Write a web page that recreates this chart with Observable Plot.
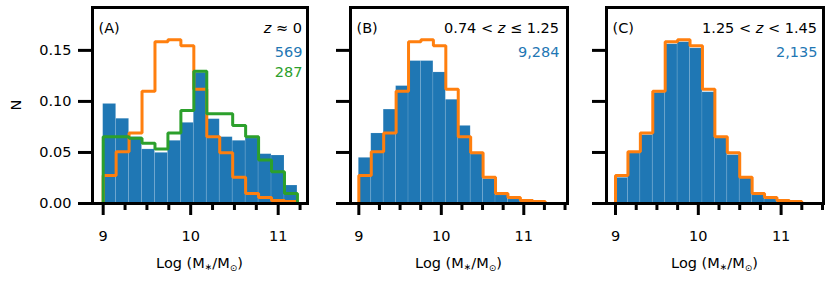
<!DOCTYPE html>
<html>
<head>
<meta charset="utf-8">
<script src="https://cdn.jsdelivr.net/npm/d3@7"></script>
<script src="https://cdn.jsdelivr.net/npm/@observablehq/plot@0.6"></script>
<style>
  body { margin: 0; background: #fff; }
  #chart { position: relative; width: 830px; height: 281px; font-family: "DejaVu Sans", sans-serif; }
  #chart svg { position: absolute; top: 0; overflow: visible; }
</style>
</head>
<body>
<div id="chart"></div>
<script>
// ---- Data ----
const yTicks = [0, 0.05, 0.10, 0.15];
const majorXTicks = [9, 10, 11];
const minorXTicks = [9.25, 9.5, 9.75, 10.25, 10.5, 10.75, 11.25, 11.5];

// bin ranges [start, end, count] per panel
const binsA = [9.0, 11.22, 15];
const binsB = [9.0, 11.26, 15];
const binsC = [9.0, 11.25, 15];

// Panel A (z ≈ 0)
const blueA  = [0.0975, 0.083, 0.065, 0.053, 0.0496, 0.0614, 0.079, 0.128, 0.0826, 0.065, 0.0614, 0.0637, 0.0483, 0.047, 0.0176];
const greenA = [0.0655, 0.0655, 0.064, 0.059, 0.0535, 0.069, 0.091, 0.1295, 0.088, 0.088, 0.0765, 0.0655, 0.0425, 0.031, 0.0097];
// reference (orange) distribution
const orangeRef = [0.0275, 0.0506, 0.069, 0.110, 0.1585, 0.1605, 0.1545, 0.112, 0.0655, 0.0496, 0.0258, 0.0099, 0.0058, 0.0029, 0.002];
// Panel B (0.74 < z ≤ 1.25)
const blueB  = [0.0447, 0.0686, 0.092, 0.115, 0.1395, 0.1395, 0.1284, 0.1016, 0.076, 0.048, 0.024, 0.008, 0.004, 0.002, 0.001];
// Panel C (1.25 < z < 1.45)
const blueC  = [0.0251, 0.049, 0.067, 0.1085, 0.156, 0.158, 0.152, 0.109, 0.0647, 0.0474, 0.0245, 0.0081, 0.004, 0.0026, 0.0015];

const panelLabels = ["(A)", "(B)", "(C)"];
const zLabels = [
  [["", false], ["z", true], [" ≈ 0", false]],
  [["0.74 < ", false], ["z", true], [" ≤ 1.25", false]],
  [["1.25 < ", false], ["z", true], [" < 1.45", false]]
];
const countsA = [["569", "#1f77b4"], ["287", "#2ca02c"]];
const countsB = [["9,284", "#1f77b4"]];
const countsC = [["2,135", "#1f77b4"]];

const BLUE = "#1f77b4", ORANGE = "#ff7f0e", GREEN = "#2ca02c";
const H = 281, MT = 7, MB = 78, FS = 14.5;

function edgesFor([lo, hi, n]) { return d3.range(n + 1).map(i => lo + (hi - lo) * i / n); }
function barsOf(vals, e) { return vals.map((v, i) => ({x1: e[i], x2: e[i + 1], y: v})); }
function stepOf(vals, e) {
  return [{x: e[0], y: 0}, ...vals.map((v, i) => ({x: e[i], y: v})), {x: e[vals.length], y: 0}];
}

function panel({left, width, mL, mR, xDomain, bins, blue, orange, green, idx, counts, yLabels, zRight}) {
  const e = edgesFor(bins);
  const marks = [
    Plot.rectY(barsOf(blue, e), {x1: "x1", x2: "x2", y: "y", fill: BLUE, stroke: "#ffffff", strokeOpacity: 0.14, strokeWidth: 0.8}),
    Plot.line(stepOf(orange, e), {x: "x", y: "y", curve: "step-after", stroke: ORANGE, strokeWidth: 3, strokeLinejoin: "miter"})
  ];
  if (green) marks.push(Plot.line(stepOf(green, e), {x: "x", y: "y", curve: "step-after", stroke: GREEN, strokeWidth: 3, strokeLinejoin: "miter"}));
  marks.push(
    Plot.axisX({ticks: minorXTicks.filter(t => t >= xDomain[0] && t <= xDomain[1]), tickSize: 7, strokeWidth: 3, tickFormat: () => "", label: null}),
    Plot.axisX({ticks: majorXTicks, tickSize: 12, strokeWidth: 3, tickPadding: 15, fontSize: FS, label: null, tickFormat: d3.format("d")}),
    Plot.axisY({ticks: yTicks, tickSize: 14, strokeWidth: 3, tickPadding: 7, fontSize: FS, label: null,
                tickFormat: yLabels ? d3.format(".2f") : () => ""}),
    Plot.frame({stroke: "black", strokeWidth: 3}),
    Plot.text([panelLabels[idx]], {frameAnchor: "top-left", textAnchor: "start", lineAnchor: "top", dx: 6, dy: 15.7, fontSize: FS, fill: "black"})
  );
  counts.forEach(([t, c], k) => {
    marks.push(Plot.text([t], {frameAnchor: "top-right", textAnchor: "end", lineAnchor: "top", dx: -zRight, dy: 39.7 + 20 * k, fontSize: FS, fill: c}));
  });
  const svg = Plot.plot({
    width, height: H, marginLeft: mL, marginRight: mR, marginTop: MT, marginBottom: MB,
    x: {domain: xDomain, axis: null},
    y: {domain: [0, 0.192], axis: null},
    style: {fontFamily: "DejaVu Sans", fontSize: FS + "px", background: "transparent", overflow: "visible"},
    marks
  });
  svg.style.left = left + "px";
  const s = d3.select(svg);
  // redshift label with italic z
  const zt = s.append("text").attr("x", width - mR - zRight).attr("y", 33)
    .attr("text-anchor", "end").attr("font-size", FS).attr("font-family", "DejaVu Sans").attr("fill", "black");
  zLabels[idx].forEach(([t, it]) => { if (t) zt.append("tspan").attr("font-style", it ? "italic" : "normal").text(t); });
  // x label with subscripts
  const cx = mL + (width - mL - mR) / 2;
  const xl = s.append("text").attr("x", cx).attr("y", 268).attr("text-anchor", "middle")
    .attr("font-size", FS).attr("font-family", "DejaVu Sans").attr("fill", "black");
  xl.append("tspan").text("Log (M");
  xl.append("tspan").attr("font-size", 9).attr("dy", 1.5).text("∗");
  xl.append("tspan").attr("dy", -1.5).text("/M");
  xl.append("tspan").attr("font-size", 9).attr("dy", 2.5).text("⊙");
  xl.append("tspan").attr("dy", -2.5).text(")");
  return svg;
}

const chart = document.getElementById("chart");
chart.appendChild(panel({left: 0, width: 310, mL: 92, mR: 3, xDomain: [8.878, 11.335], bins: binsA,
  blue: blueA, orange: orangeRef, green: greenA, idx: 0, counts: countsA, yLabels: true, zRight: 5}));
chart.appendChild(panel({left: 310, width: 260, mL: 40, mR: 3, xDomain: [8.899, 11.53], bins: binsB,
  blue: blueB, orange: orangeRef, green: null, idx: 1, counts: countsB, yLabels: false, zRight: 8}));
chart.appendChild(panel({left: 570, width: 260, mL: 36, mR: 7, xDomain: [8.891, 11.512], bins: binsC,
  blue: blueC, orange: orangeRef, green: null, idx: 2, counts: countsC, yLabels: false, zRight: 6}));

// y-axis label
const first = d3.select(chart.querySelector("svg"));
first.append("text").attr("transform", "translate(21,105) rotate(-90)").attr("text-anchor", "middle")
  .attr("font-size", FS).attr("font-family", "DejaVu Sans").attr("fill", "black").text("N");
</script>
</body>
</html>
